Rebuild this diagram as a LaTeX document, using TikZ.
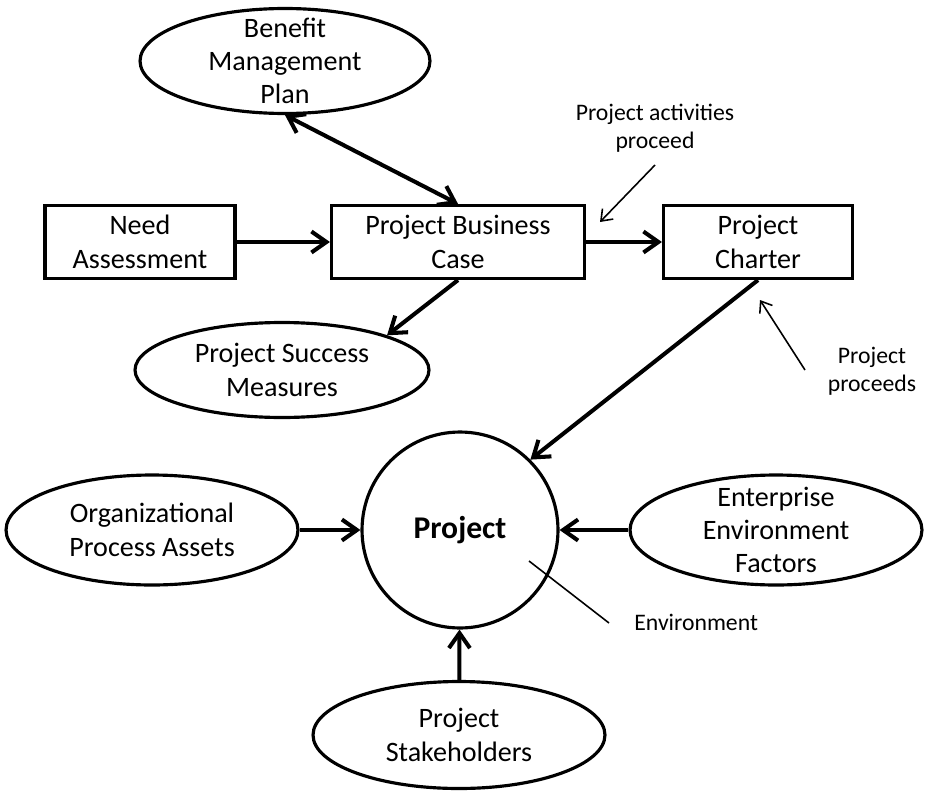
\documentclass[tikz,border=0pt]{standalone}
\usepackage{fontspec}
\setmainfont{Carlito}
\usetikzlibrary{arrows.meta, positioning, shapes.geometric}

\begin{document}
\begin{tikzpicture}[x=0.02cm, y=-0.02cm,
  txt/.style={align=center, font=\fontsize{16}{19}\selectfont},
  box/.style={draw, line width=1.8pt, txt, inner sep=0pt, minimum height=1.46cm},
  oval/.style={draw, ellipse, line width=1.8pt, inner sep=0pt},
  note/.style={align=center, font=\fontsize{13.5}{16}\selectfont, inner sep=0pt},
  line/.style={line width=2.3pt, -{Straight Barb[length=3mm, width=4.2mm]}},
  twoway/.style={line width=2.3pt, {Straight Barb[length=3mm, width=4.2mm]}-{Straight Barb[length=3mm, width=4.2mm]}},
  pointer/.style={line width=0.9pt, -{Straight Barb[length=2mm, width=3mm]}}]
\useasboundingbox (0,0) rectangle (926,791);

% top row
\draw (140,242) node[box, minimum width=3.8cm] (need) {Need\\Assessment};
\draw (458,242) node[box, minimum width=5.06cm] (case) {Project Business\\Case};
\draw (758,242) node[box, minimum width=3.78cm] (charter) {Project\\Charter};

% ovals
\draw (285,61) node[oval, minimum width=5.8cm, minimum height=2.1cm,
  label={[txt]center:Benefit\\Management\\Plan}] (plan) {};
\draw (282,370) node[oval, minimum width=5.88cm, minimum height=1.9cm,
  label={[txt]center:Project Success\\Measures}] (success) {};
\draw (152,530) node[oval, minimum width=5.84cm, minimum height=2.2cm,
  label={[txt]center:Organizational\\Process Assets}] (assets) {};
\draw (776,530) node[oval, minimum width=5.84cm, minimum height=2.2cm,
  label={[txt]center:Enterprise\\Environment\\Factors}] (factors) {};
\draw (459,735) node[oval, minimum width=5.84cm, minimum height=2.14cm,
  label={[txt]center:Project\\Stakeholders}] (holders) {};

% the project
\draw (460,530) node[circle, draw, line width=1.8pt, minimum size=3.92cm,
  font=\bfseries\fontsize{18}{22}\selectfont] (project) {Project};

\draw [twoway] (plan.south) -- (case.north);
\draw [line] (need) -- (case);
\draw [line] (case) -- (charter);
\draw [line] (case.south) -- (success.north east);
\draw [line] (charter.south) -- (project.north east);
\draw [line] (assets) -- (project);
\draw [line] (factors) -- (project);
\draw [line] (holders) -- (project);

% notes
\draw (655,128) node[note] (act) {Project activities\\proceed};
\coordinate (acttail) at (655,165);
\coordinate (acttip) at (600,222);
\draw [pointer] (acttail) -- (acttip);

\draw (872,371) node[note] (proc) {Project\\proceeds};
\coordinate (proctail) at (805,370);
\coordinate (proctip) at (760,300);
\draw [pointer] (proctail) -- (proctip);

\draw (634,622) node[note, anchor=west] (env) {Environment};
\coordinate (envstart) at (529,561);
\coordinate (envend) at (609,623);
\draw [line width=0.9pt] (envstart) -- (envend);
\end{tikzpicture}
\end{document}
